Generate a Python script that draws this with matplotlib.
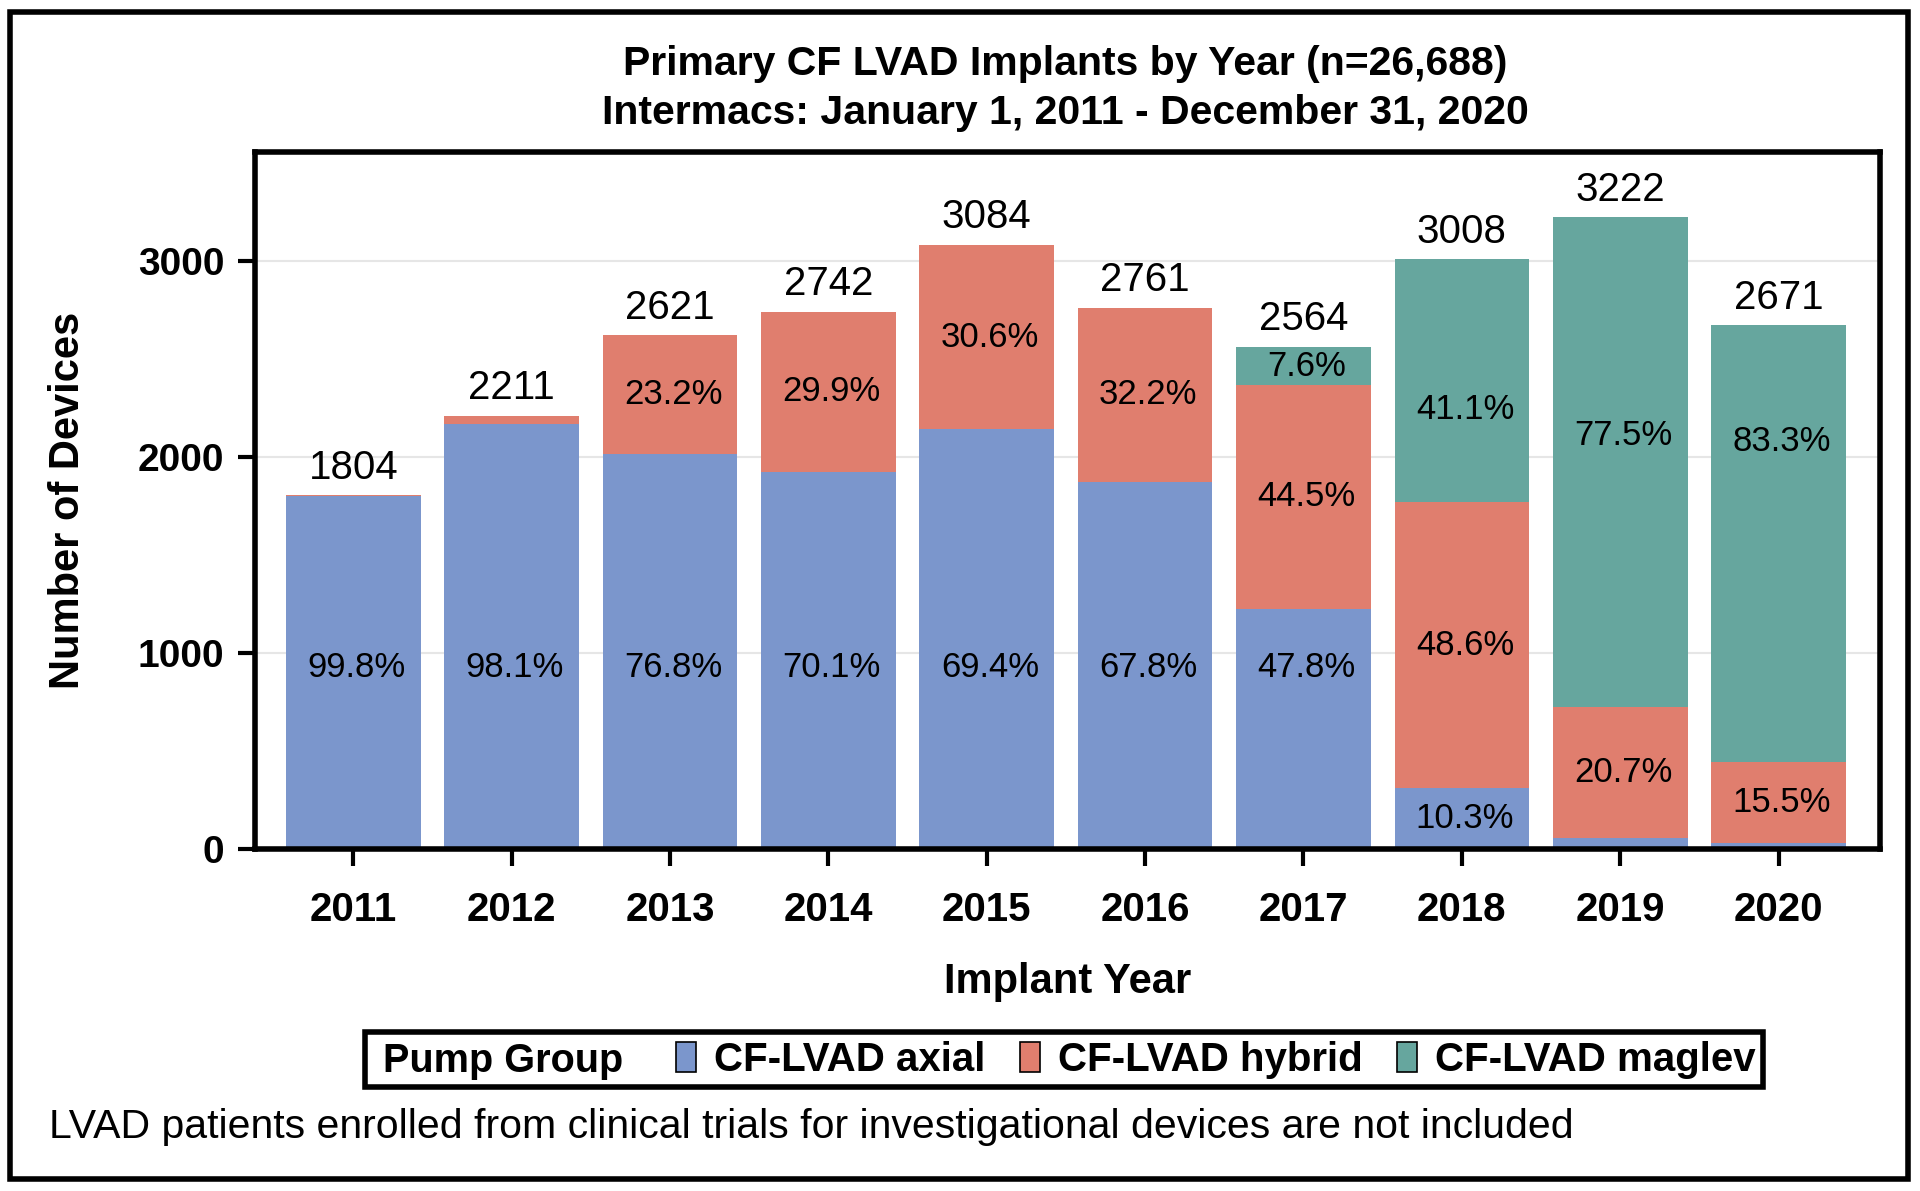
import matplotlib
matplotlib.use("Agg")
import matplotlib.pyplot as plt
from matplotlib.patches import Patch, Rectangle
import numpy as np

# data
years = ["2011", "2012", "2013", "2014", "2015", "2016", "2017", "2018", "2019", "2020"]
totals = [1804, 2211, 2621, 2742, 3084, 2761, 2564, 3008, 3222, 2671]
axial_pct = [99.8, 98.1, 76.8, 70.1, 69.4, 67.8, 47.8, 10.3, 1.8, 1.2]
hybrid_pct = [0.2, 1.9, 23.2, 29.9, 30.6, 32.2, 44.5, 48.6, 20.7, 15.5]
maglev_pct = [0.0, 0.0, 0.0, 0.0, 0.0, 0.0, 7.6, 41.1, 77.5, 83.3]
series_names = ["CF-LVAD axial", "CF-LVAD hybrid", "CF-LVAD maglev"]

colors = ["#7B96CC", "#E07E6E", "#66A69E"]

# where SAS put the percent labels (None = no label, "mid" = segment centre)
axial_label_y = [925, 925, 925, 925, 925, 925, 925, "mid", None, None]
hybrid_label_y = [None, None, "mid", "mid", "mid", "mid", "mid", "mid", "mid", "mid"]
maglev_label_y = [None, None, None, None, None, None, "mid", 2244, 2112, 2081]

plt.rcParams["font.family"] = ["Liberation Sans", "DejaVu Sans"]

W, H = 1920, 1191
fig = plt.figure(figsize=(W / 100, H / 100), dpi=100)

# outer frame
fig.patches.append(Rectangle((10 / W, 1 - 1179 / H), 1898 / W, 1167 / H,
                             transform=fig.transFigure, fill=False,
                             edgecolor="black", linewidth=4))

ax = fig.add_axes([255 / W, 1 - 849 / H, (1880 - 255) / W, (849 - 152) / H])

x = np.arange(len(years))
tot = np.array(totals, dtype=float)
pcts = [np.array(axial_pct), np.array(hybrid_pct), np.array(maglev_pct)]
label_ys = [axial_label_y, hybrid_label_y, maglev_label_y]
bottom = np.zeros(len(years))
width = 0.85

for i, (p, name) in enumerate(zip(pcts, series_names)):
    vals = tot * p / 100.0
    ax.bar(x, vals, width, bottom=bottom, color=colors[i], label=name,
           linewidth=0, zorder=2)
    for j in range(len(years)):
        ly = label_ys[i][j]
        if ly is None:
            continue
        if ly == "mid":
            ly = bottom[j] + vals[j] / 2
        ax.text(x[j] + 0.02, ly, f"{p[j]:.1f}%", ha="center", va="center",
                fontsize=25, zorder=3)
    bottom += vals

for j in range(len(years)):
    ax.annotate(str(totals[j]), (x[j], totals[j]), xytext=(0, 6),
                textcoords="offset points", ha="center", va="bottom",
                fontsize=29)

ax.set_xlim(-0.62, len(years) - 1 + 0.64)
ax.set_ylim(0, 3556)
ax.set_xticks(x)
ax.set_xticklabels(years, fontsize=29, fontweight="bold")
ax.set_yticks([0, 1000, 2000, 3000])
ax.set_yticklabels(["0", "1000", "2000", "3000"], fontsize=28, fontweight="bold")
ax.tick_params(axis="x", direction="out", length=12, width=3, pad=18)
ax.tick_params(axis="y", direction="out", length=12, width=3, pad=10)
ax.yaxis.grid(True, color="#e6e6e6", linewidth=1.5, zorder=0)
ax.set_axisbelow(True)
for s in ax.spines.values():
    s.set_linewidth(4)

ax.set_xlabel("Implant Year", fontsize=30, fontweight="bold", labelpad=24)
ax.set_ylabel("Number of Devices", fontsize=30, fontweight="bold", labelpad=36)

fig.text(1065 / W, 1 - 64 / H, "Primary CF LVAD Implants by Year (n=26,688)",
         ha="center", va="center", fontsize=29.5, fontweight="bold")
fig.text(1065 / W, 1 - 113 / H, "Intermacs: January 1, 2011 - December 31, 2020",
         ha="center", va="center", fontsize=29.5, fontweight="bold")

# legend: box + inline "Pump Group" title + the three entries
fig.patches.append(Rectangle((365 / W, 1 - 1087 / H), (1763 - 365) / W, 55 / H,
                             transform=fig.transFigure, fill=False,
                             edgecolor="black", linewidth=4))
fig.text(383 / W, 1 - 1061 / H, "Pump Group", ha="left", va="center",
         fontsize=28.5, fontweight="bold")
handles = [Patch(facecolor=c, edgecolor="black", linewidth=1.2) for c in colors]
leg = fig.legend(handles, series_names, loc="center right",
                 bbox_to_anchor=(1756 / W, 1 - 1060 / H),
                 ncol=3, frameon=False, prop={"size": 29, "weight": "bold"},
                 handlelength=0.5, handleheight=0.8, handletextpad=0.45,
                 columnspacing=0.85, borderpad=0, borderaxespad=0)

fig.text(49 / W, 1 - 1127 / H,
         "LVAD patients enrolled from clinical trials for investigational devices are not included",
         ha="left", va="center", fontsize=29.5)

fig.savefig("out.png", dpi=100)
